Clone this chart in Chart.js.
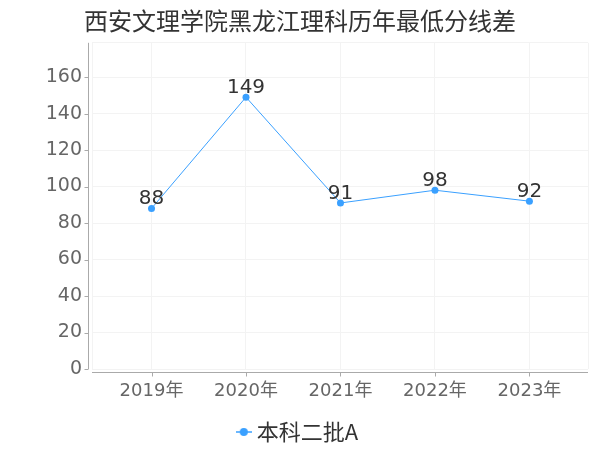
<!DOCTYPE html>
<html>
<head>
<meta charset="utf-8">
<script src="https://cdn.jsdelivr.net/npm/chart.js@4/dist/chart.umd.min.js"></script>
<style>
  html, body { margin: 0; padding: 0; background: #fff; }
  #wrap { width: 600px; height: 450px; }
</style>
</head>
<body>
<div id="wrap"><canvas id="chart"></canvas></div>
<script>
const titleText = '西安文理学院黑龙江理科历年最低分线差';
const years = ['2019年', '2020年', '2021年', '2022年', '2023年'];
const seriesName = '本科二批A';
const diffs = [88, 149, 91, 98, 92];
const yMax = 178.8;
const xMin = -0.63, xMax = 4.62;

const blue = 'rgb(58, 160, 255)';
const font = '"DejaVu Sans", "Noto Sans CJK SC", sans-serif';
const cjkFont = '"Noto Sans CJK SC", sans-serif';

// legend marker: short line with a dot
function legendMarker() {
    const c = document.createElement('canvas');
    c.width = 16; c.height = 10;
    const g = c.getContext('2d');
    g.strokeStyle = blue;
    g.lineWidth = 1.5;
    g.beginPath(); g.moveTo(0, 5); g.lineTo(16, 5); g.stroke();
    g.fillStyle = blue;
    g.beginPath(); g.arc(8, 5, 4, 0, Math.PI * 2); g.fill();
    return c;
}

const yearAt = v => {
    const i = Math.round(v);
    return Math.abs(v - i) < 1e-6 && years[i] ? years[i] : '';
};

const axisLines = {
    id: 'axisLines',
    afterDraw(chart) {
        const { ctx, chartArea: a, scales } = chart;
        ctx.save();
        ctx.strokeStyle = '#aaa';
        ctx.lineWidth = 1;
        ctx.beginPath();
        const yx = Math.round(a.left - 4) + 0.5;
        ctx.moveTo(yx, a.top); ctx.lineTo(yx, a.bottom);
        scales.y.ticks.forEach(t => {
            if (t.value % 20 !== 0) return;
            const py = Math.round(scales.y.getPixelForValue(t.value)) + 0.5;
            ctx.moveTo(yx - 4, py); ctx.lineTo(yx, py);
        });
        const xy = Math.round(a.bottom + 3) + 0.5;
        ctx.moveTo(a.left, xy); ctx.lineTo(a.right, xy);
        years.forEach((_, i) => {
            const px = Math.round(scales.x.getPixelForValue(i)) + 0.5;
            ctx.moveTo(px, xy); ctx.lineTo(px, xy + 4);
        });
        ctx.stroke();
        ctx.restore();
    }
};

const valueLabels = {
    id: 'valueLabels',
    afterDatasetsDraw(chart) {
        const { ctx } = chart;
        const meta = chart.getDatasetMeta(0);
        ctx.save();
        ctx.font = '20px ' + font;
        ctx.fillStyle = '#333';
        ctx.textAlign = 'center';
        ctx.textBaseline = 'alphabetic';
        meta.data.forEach((pt, i) => {
            ctx.fillText(String(diffs[i]), pt.x, pt.y - 4);
        });
        ctx.restore();
    }
};

new Chart(document.getElementById('chart'), {
    type: 'line',
    data: {
        datasets: [{
            label: seriesName,
            data: diffs.map((v, i) => ({ x: i, y: v })),
            borderColor: blue,
            backgroundColor: blue,
            borderWidth: 1,
            pointRadius: 3.5,
            pointHoverRadius: 3.5,
            pointBorderWidth: 0,
            tension: 0
        }]
    },
    options: {
        responsive: true,
        maintainAspectRatio: false,
        animation: false,
        layout: { padding: { left: 0, right: 0, top: 0, bottom: -3 } },
        plugins: {
            title: {
                display: true,
                text: titleText,
                color: '#333',
                font: { family: cjkFont, size: 24, weight: 'normal' },
                padding: { top: 6, bottom: 8 }
            },
            legend: {
                position: 'bottom',
                labels: {
                    color: '#333',
                    font: { family: cjkFont, size: 22 },
                    usePointStyle: true,
                    pointStyleWidth: 4,
                    padding: 10,
                    generateLabels: () => [{
                        text: seriesName,
                        pointStyle: legendMarker(),
                        fillStyle: blue,
                        strokeStyle: blue,
                        lineWidth: 0,
                        fontColor: '#333',
                        datasetIndex: 0
                    }]
                }
            },
            tooltip: { enabled: false }
        },
        scales: {
            x: {
                type: 'linear',
                min: xMin,
                max: xMax,
                afterBuildTicks: s => {
                    s.ticks = [xMin, ...years.map((_, i) => i), xMax].map(v => ({ value: v }));
                },
                afterFit: s => { s.height = 42; },
                border: { display: false },
                grid: { color: '#f3f3f3', drawTicks: false },
                ticks: {
                    autoSkip: false,
                    maxRotation: 0,
                    padding: 12,
                    color: '#666',
                    font: { family: font, size: 18 },
                    callback: v => yearAt(v)
                }
            },
            y: {
                min: 0,
                max: yMax,
                afterFit: s => { s.width = 92; },
                border: { display: false },
                grid: { color: '#f3f3f3', drawTicks: false },
                ticks: {
                    stepSize: 20,
                    padding: 10,
                    color: '#666',
                    font: { family: font, size: 19 },
                    callback: v => v % 20 === 0 ? v : ''
                }
            },
            spacer: {
                type: 'linear',
                position: 'right',
                afterFit: s => { s.width = 12; },
                border: { display: false },
                grid: { display: false },
                ticks: { display: false }
            }
        }
    },
    plugins: [axisLines, valueLabels]
});
</script>
</body>
</html>
